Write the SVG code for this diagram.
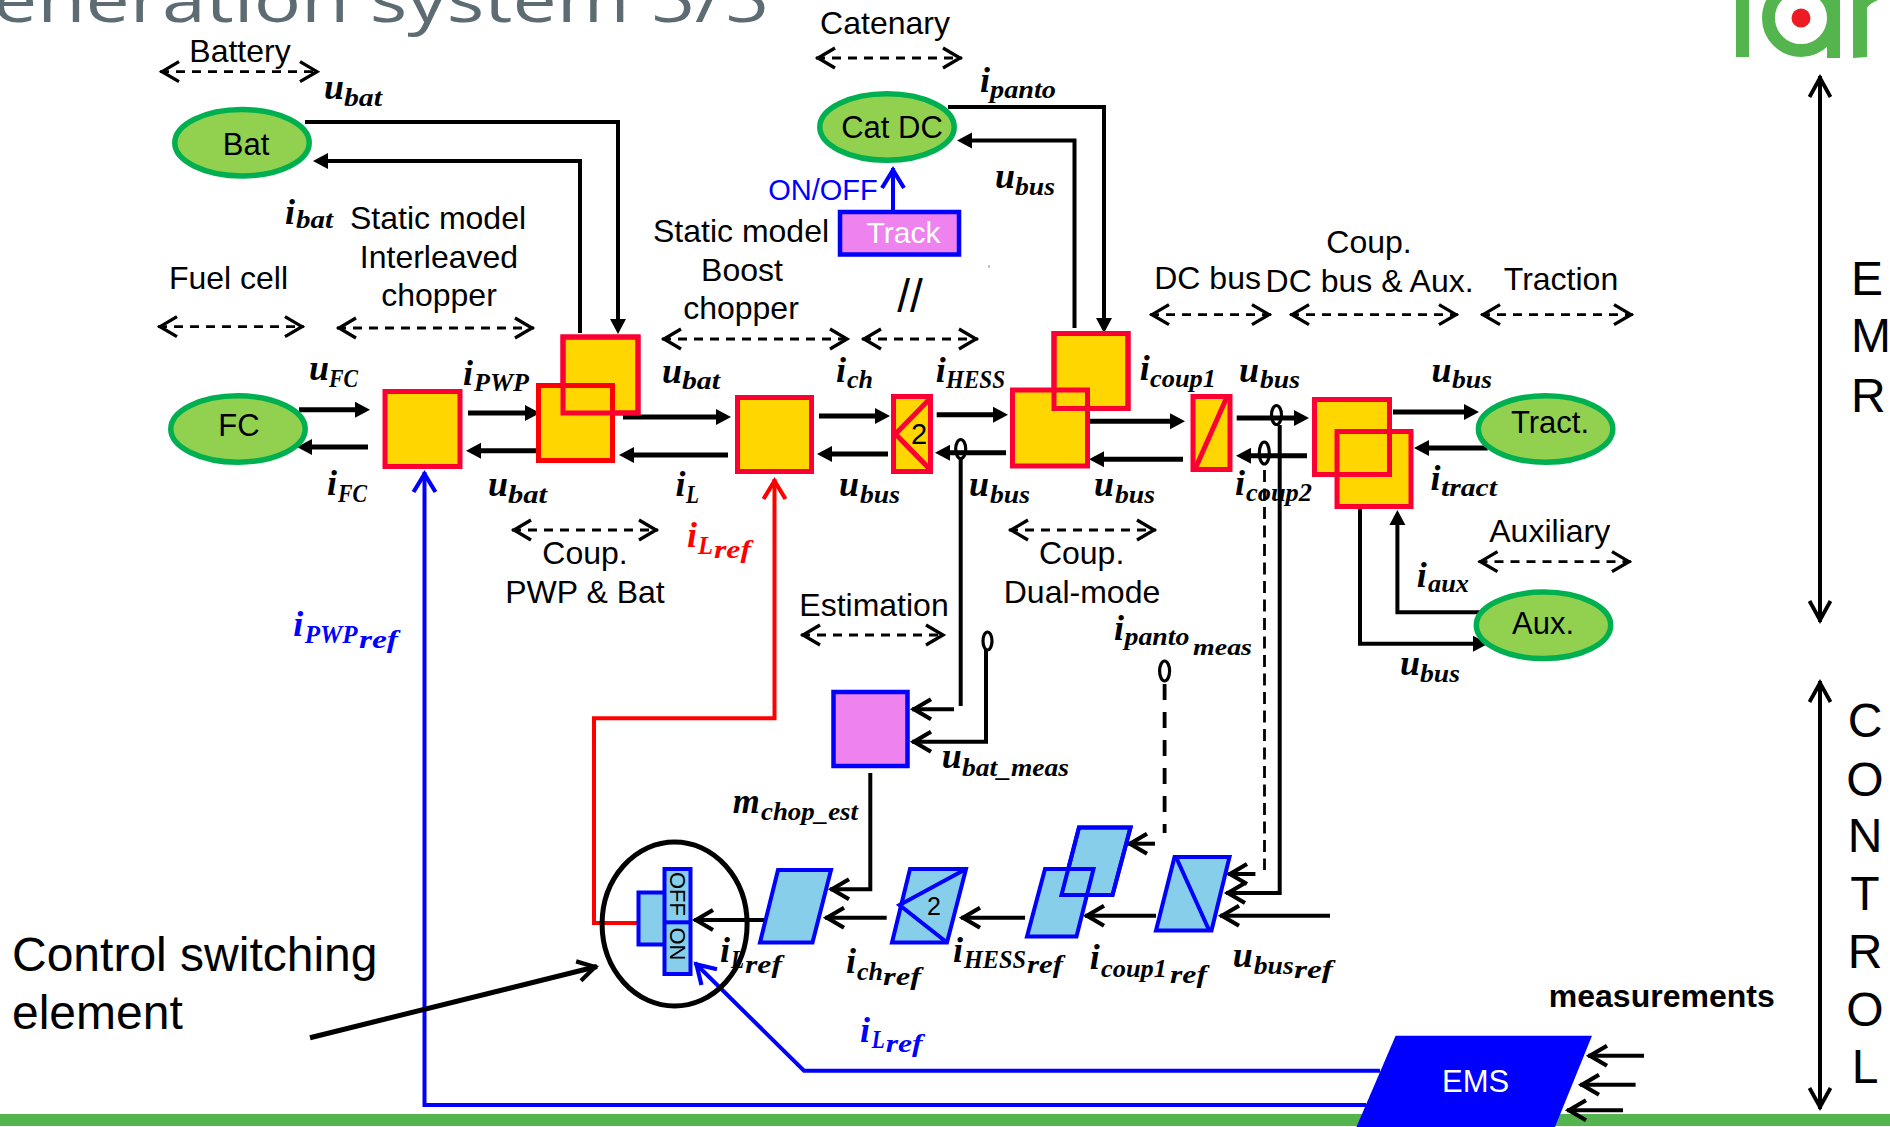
<svg xmlns="http://www.w3.org/2000/svg" width="1890" height="1127" viewBox="0 0 1890 1127">
<style>
text{font-family:"Liberation Sans",Arial,sans-serif;font-size:32px;fill:#000}
.c{text-anchor:middle}
.n{font-size:31px}
.b{font-size:48px}
.title{font-family:"Open Sans","Liberation Sans",sans-serif;font-size:62px;font-weight:400;fill:#5d6b73}
.m{font-family:"Liberation Serif","Times New Roman",serif;font-weight:bold;font-style:italic;font-size:36px}
.s{font-size:25px}
.ss{font-size:24px}
.blue{fill:#00f}.red{fill:#f00}
.el{fill:#92d050;stroke:#00b050;stroke-width:5.5}
.y{fill:#ffd600;stroke:#fb0032;stroke-width:5}
.yr{fill:#ffd600;stroke:#f00;stroke-width:5}
.no{fill:none}
.sky{fill:#87ceeb;stroke:#00f;stroke-width:4}
.vi{fill:#ee82ee;stroke:#00f;stroke-width:4.5}
.lk{fill:none;stroke:#000;stroke-width:4}
.sh{fill:none;stroke:#000;stroke-width:5}
.da{fill:none;stroke:#000;stroke-width:2.8;stroke-dasharray:9 7;marker-start:url(#dh);marker-end:url(#dh)}
.bl{fill:none;stroke:#00f;stroke-width:4}
.rd{fill:none;stroke:#f00;stroke-width:4}
.pr{fill:none;stroke:#000;stroke-width:3.2}
</style>
<defs>
<marker id="fa" markerUnits="userSpaceOnUse" markerWidth="24" markerHeight="24" refX="11" refY="12" orient="auto"><path d="M1,4 L16,12 L1,20Z" fill="#000"/></marker>
<marker id="oa" markerUnits="userSpaceOnUse" markerWidth="34" markerHeight="34" refX="26" refY="17" orient="auto"><path d="M7,7 L24,17 L7,27" fill="none" stroke="#000" stroke-width="4.2"/></marker>
<marker id="dh" markerUnits="userSpaceOnUse" markerWidth="34" markerHeight="34" refX="26" refY="17" orient="auto-start-reverse"><path d="M7,7 L24,17 L7,27" fill="none" stroke="#000" stroke-width="3.3"/></marker>
<marker id="lh" markerUnits="userSpaceOnUse" markerWidth="34" markerHeight="34" refX="26" refY="17" orient="auto-start-reverse"><path d="M5,6.5 L24,17 L5,27.5" fill="none" stroke="#000" stroke-width="3.8"/></marker>
<marker id="ob" markerUnits="userSpaceOnUse" markerWidth="34" markerHeight="34" refX="26" refY="17" orient="auto"><path d="M6,6 L24,17 L6,28" fill="none" stroke="#00f" stroke-width="4.2"/></marker>
<marker id="or" markerUnits="userSpaceOnUse" markerWidth="34" markerHeight="34" refX="26" refY="17" orient="auto"><path d="M6,6 L24,17 L6,28" fill="none" stroke="#f00" stroke-width="4.2"/></marker>
</defs>

<rect id="bottom-bar" x="0" y="1114" width="1890" height="12" fill="#54b54f"/>
<text class="title" x="-7" y="22" textLength="776" lengthAdjust="spacingAndGlyphs">eneration system 5/5</text>

<g id="logo">
<rect x="1736" y="0" width="13" height="57" fill="#54b54f"/>
<circle cx="1801" cy="18" r="32.5" fill="none" stroke="#54b54f" stroke-width="13"/>
<rect x="1827" y="0" width="13" height="58" fill="#54b54f"/>
<path d="M1853,0 L1878,0 Q1870,3 1867,8 L1867,57 L1853,58Z" fill="#54b54f"/>
<circle cx="1801" cy="18" r="9.5" fill="#ed1c24"/>
</g>

<g id="connectors">
<path class="lk" marker-end="url(#fa)" d="M305,122 H618 V329"/>
<path class="lk" marker-end="url(#fa)" d="M580,333 V161 H318"/>
<path class="lk" marker-end="url(#fa)" d="M948,107 H1104 V328"/>
<path class="lk" marker-end="url(#fa)" d="M1074.5,328 V140.5 H962"/>
<path class="bl" marker-end="url(#ob)" d="M893,210 V168"/>
<path class="sh" marker-end="url(#fa)" d="M299,409.7 H365"/>
<path class="sh" marker-end="url(#fa)" d="M368,447 H302"/>
<path class="sh" marker-end="url(#fa)" d="M468,413 H535"/>
<path class="sh" marker-end="url(#fa)" d="M538,450.7 H471"/>
<path class="sh" marker-end="url(#fa)" d="M623,417 H726"/>
<path class="sh" marker-end="url(#fa)" d="M728,455 H624"/>
<path class="sh" marker-end="url(#fa)" d="M819,416 H885"/>
<path class="sh" marker-end="url(#fa)" d="M888,454 H822"/>
<path class="sh" marker-end="url(#fa)" d="M936.7,414.7 H1003"/>
<path class="sh" marker-end="url(#fa)" d="M1006,452.7 H940"/>
<path class="sh" marker-end="url(#fa)" d="M1090,421.3 H1180"/>
<path class="sh" marker-end="url(#fa)" d="M1183,459.3 H1094"/>
<path class="sh" marker-end="url(#fa)" d="M1236.7,418 H1304"/>
<path class="sh" marker-end="url(#fa)" d="M1307,455.7 H1241"/>
<path class="sh" marker-end="url(#fa)" d="M1393,412 H1474"/>
<path class="sh" marker-end="url(#fa)" d="M1487.7,448 H1419"/>
<path class="lk" marker-end="url(#fa)" d="M1360,509 V643.7 H1483"/>
<path class="lk" marker-end="url(#fa)" d="M1480.6,612.3 H1397.4 V515"/>
<ellipse class="pr" cx="960.7" cy="449" rx="5" ry="9.5"/>
<path class="lk" d="M960.7,458 V706"/>
<path class="lk" marker-end="url(#oa)" d="M954,709.3 H912"/>
<ellipse class="pr" cx="987.5" cy="641" rx="4.5" ry="9"/>
<path class="lk" marker-end="url(#oa)" d="M986,650 V741.7 H912"/>
<ellipse class="pr" cx="1276.5" cy="415" rx="5" ry="9.5"/>
<path class="lk" marker-end="url(#oa)" d="M1279.7,425 V893 H1226"/>
<ellipse class="pr" cx="1264.3" cy="453" rx="5" ry="11"/>
<path d="M1264.5,470 V870" fill="none" stroke="#000" stroke-width="2.8" stroke-dasharray="12 6.5"/>
<path class="lk" marker-end="url(#oa)" d="M1255.4,874 H1228"/>
<ellipse class="pr" cx="1164.6" cy="671" rx="5" ry="10"/>
<path d="M1164.6,681 V833" fill="none" stroke="#000" stroke-width="3.8" stroke-dasharray="16 12" stroke-dashoffset="-3"/>
<path class="lk" marker-end="url(#oa)" d="M1155,843.7 H1128"/>
<path class="lk" marker-end="url(#oa)" d="M1330,915.7 H1220"/>
<path class="lk" marker-end="url(#oa)" d="M1156,915.7 H1085"/>
<path class="lk" marker-end="url(#oa)" d="M1025,917.7 H961"/>
<path class="lk" marker-end="url(#oa)" d="M886.7,917.7 H825"/>
<path class="lk" marker-end="url(#oa)" d="M870.3,773 V889.3 H830"/>
<path class="lk" marker-end="url(#oa)" d="M765.7,920 H694"/>
<path class="rd" marker-end="url(#or)" d="M637,923 H594 V718.3 H774.5 V479"/>
<path class="bl" marker-end="url(#ob)" d="M1366,1105 H424.5 V472"/>
<path class="bl" marker-end="url(#ob)" d="M1380,1070.7 H804 L695,963"/>
<path class="sh" marker-end="url(#oa)" d="M310,1037.7 L597,966.5"/>
<path class="lk" marker-end="url(#oa)" d="M1644,1055.7 H1588"/>
<path class="lk" marker-end="url(#oa)" d="M1635.6,1084.7 H1580"/>
<path class="lk" marker-end="url(#oa)" d="M1623,1110.3 H1567"/>
<path class="da" d="M160,71.7 H319"/>
<path class="da" d="M816,58 H962"/>
<path class="da" d="M158,326.7 H304"/>
<path class="da" d="M337,328 H534"/>
<path class="da" d="M662,339 H849"/>
<path class="da" d="M862,339 H978"/>
<path class="da" d="M1150,314.7 H1271"/>
<path class="da" d="M1290,314.7 H1458"/>
<path class="da" d="M1481,314.7 H1633"/>
<path class="da" d="M512,530 H658"/>
<path class="da" d="M1009,530 H1156"/>
<path class="da" d="M801,635 H945"/>
<path class="da" d="M1478.5,561.7 H1631"/>
<path class="lk" marker-start="url(#lh)" marker-end="url(#lh)" d="M1820,76 V622"/>
<path class="lk" marker-start="url(#lh)" marker-end="url(#lh)" d="M1820,681 V1109"/>
</g>

<g id="node-bat"><ellipse class="el" cx="242" cy="142.7" rx="67.2" ry="33.2"/><text class="c n" x="246" y="155">Bat</text></g>
<g id="node-catdc"><ellipse class="el" cx="887" cy="127" rx="67.2" ry="33.2"/><text class="c n" x="892" y="138">Cat DC</text></g>
<g id="node-track"><rect class="vi" x="840" y="212" width="119" height="42.5"/><text class="c" x="903.5" y="243" style="fill:#fff;font-size:30px">Track</text></g>
<g id="node-fc"><ellipse class="el" cx="238" cy="429" rx="67.2" ry="33.2"/><text class="c n" x="239" y="436">FC</text></g>
<g id="node-tract"><ellipse class="el" cx="1545.6" cy="429" rx="67.2" ry="33.2"/><text class="c n" x="1550" y="433">Tract.</text></g>
<g id="node-aux"><ellipse class="el" cx="1543.5" cy="625.3" rx="67.2" ry="33.2"/><text class="c n" x="1543" y="634">Aux.</text></g>
<g id="node-y1"><rect class="y" x="385" y="391.5" width="75" height="75"/></g>
<g id="node-y2"><rect class="y" x="563" y="337" width="75" height="76"/><rect class="yr" x="538.5" y="385.5" width="74" height="75"/><rect class="y no" x="563" y="337" width="75" height="76"/></g>
<g id="node-y3"><rect class="y" x="737.5" y="397.5" width="74" height="74"/></g>
<g id="node-chopper2"><rect class="y" x="893.5" y="396.5" width="37" height="75"/><path class="y no" d="M930.6,398 L895.5,434 L930.6,470"/><text class="c" x="919" y="444" style="font-size:29px">2</text></g>
<g id="node-y4"><rect class="y" x="1054" y="333.5" width="74" height="75"/><rect class="y" x="1012.5" y="390" width="75" height="76"/><rect class="y no" x="1054" y="333.5" width="74" height="75"/></g>
<g id="node-coupling"><rect class="y" x="1193" y="396.5" width="37" height="73"/><path class="y no" d="M1226.5,398 L1196,467"/></g>
<g id="node-y5"><rect class="y" x="1314.5" y="399.5" width="75" height="75"/><rect class="y" x="1337" y="431.5" width="74" height="75"/><rect class="y no" x="1314.5" y="399.5" width="75" height="75"/></g>
<g id="node-est"><rect class="vi" x="833.5" y="692" width="74" height="74"/></g>
<g id="node-il"><path class="sky" d="M778,870 H831 L812.5,942.5 H760Z"/></g>
<g id="node-ich"><path class="sky" d="M910,869 H966 L947,942.5 H892Z"/><path class="bl" d="M966,869 L899.5,905 L947,942.5"/><text class="c" x="934" y="915" style="font-size:25px">2</text></g>
<g id="node-hess"><path class="sky" d="M1079,827.5 H1130.5 L1112.5,895 H1061.5Z"/><path class="sky" d="M1045,869 H1093.5 L1076.5,936.5 H1027Z"/><path class="bl" d="M1079,827.5 H1130.5 L1112.5,895 H1061.5Z"/></g>
<g id="node-coup1"><path class="sky" d="M1174.5,857 H1229.5 L1211.5,930.5 H1156Z"/><path class="bl" d="M1176,857 L1209,930"/></g>
<g id="node-switch"><rect class="sky" x="638.5" y="892.5" width="30" height="52"/><rect class="sky" x="664.5" y="869" width="26" height="105"/><path class="bl" d="M664.5,922.3 H690.5"/>
<text class="c" transform="translate(670,894) rotate(90)" style="font-size:22px">OFF</text><text class="c" transform="translate(670,944) rotate(90)" style="font-size:22px">ON</text></g>
<ellipse id="switch-ring" cx="674.6" cy="924" rx="72.5" ry="82" fill="none" stroke="#000" stroke-width="5"/>
<g id="node-ems"><path d="M1395.6,1035.7 H1592 L1555,1127 H1356.4Z" fill="#00f"/><text class="c n" x="1475.6" y="1091.7" style="fill:#fff">EMS</text></g>

<g id="labels">
<text class="c" x="240" y="62">Battery</text>
<text class="c" x="885" y="34">Catenary</text>
<text class="c" x="438" y="229">Static model</text>
<text class="c" x="439" y="268">Interleaved</text>
<text class="c" x="439" y="306">chopper</text>
<text class="c" x="228.5" y="289">Fuel cell</text>
<text class="c" x="741" y="242">Static model</text>
<text class="c" x="742" y="281">Boost</text>
<text class="c" x="741" y="319">chopper</text>
<text class="c blue" x="823" y="200" style="font-size:29px">ON/OFF</text>
<text class="c" x="910" y="312" style="font-size:46px">//</text>
<rect x="988.5" y="265" width="1" height="3" fill="#888"/>
<text class="c" x="1369" y="253">Coup.</text>
<text class="c" x="1207.6" y="289">DC bus</text>
<text class="c" x="1369.6" y="291.7">DC bus &amp; Aux.</text>
<text class="c" x="1561" y="290">Traction</text>
<text class="c" x="585" y="564">Coup.</text>
<text class="c" x="585" y="603">PWP &amp; Bat</text>
<text class="c" x="1081.6" y="564">Coup.</text>
<text class="c" x="1082" y="603">Dual-mode</text>
<text class="c" x="874" y="616">Estimation</text>
<text class="c" x="1549.7" y="542">Auxiliary</text>
<text x="1548.8" y="1007" style="font-weight:bold">measurements</text>
<text x="12" y="970.7" class="b">Control switching</text>
<text x="12" y="1028.5" class="b">element</text>
<text x="1851" y="295" class="b">E</text><text x="1851" y="351.7" class="b">M</text><text x="1851" y="412" class="b">R</text>
<text class="c b" x="1865" y="737">C</text><text class="c b" x="1865" y="795.7">O</text><text class="c b" x="1865" y="852">N</text><text class="c b" x="1865" y="910">T</text><text class="c b" x="1865" y="968">R</text><text class="c b" x="1865" y="1025.7">O</text><text class="c b" x="1865" y="1082.7">L</text>

<text class="m"><tspan x="324" y="99">u</tspan><tspan class="s" x="344" y="106" textLength="38" lengthAdjust="spacingAndGlyphs">bat</tspan></text>
<text class="m"><tspan x="285" y="224">i</tspan><tspan class="s" x="296" y="228" textLength="37" lengthAdjust="spacingAndGlyphs">bat</tspan></text>
<text class="m"><tspan x="980" y="92">i</tspan><tspan class="s" x="990" y="98" textLength="66" lengthAdjust="spacingAndGlyphs">panto</tspan></text>
<text class="m"><tspan x="995" y="188">u</tspan><tspan class="s" x="1015" y="195" textLength="40" lengthAdjust="spacingAndGlyphs">bus</tspan></text>
<text class="m"><tspan x="309" y="380">u</tspan><tspan class="s" x="329" y="387" textLength="29" lengthAdjust="spacingAndGlyphs">FC</tspan></text>
<text class="m"><tspan x="463" y="385">i</tspan><tspan class="s" x="474" y="391" textLength="55" lengthAdjust="spacingAndGlyphs">PWP</tspan></text>
<text class="m"><tspan x="662" y="382.7">u</tspan><tspan class="s" x="682" y="388.7" textLength="38" lengthAdjust="spacingAndGlyphs">bat</tspan></text>
<text class="m"><tspan x="836" y="381.7">i</tspan><tspan class="s" x="847" y="388" textLength="26" lengthAdjust="spacingAndGlyphs">ch</tspan></text>
<text class="m"><tspan x="327" y="495">i</tspan><tspan class="s" x="338" y="501.7" textLength="29" lengthAdjust="spacingAndGlyphs">FC</tspan></text>
<text class="m"><tspan x="488" y="495.7">u</tspan><tspan class="s" x="508" y="503" textLength="39" lengthAdjust="spacingAndGlyphs">bat</tspan></text>
<text class="m"><tspan x="675.5" y="495.7">i</tspan><tspan class="s" x="686" y="502.7" textLength="13" lengthAdjust="spacingAndGlyphs">L</tspan></text>
<text class="m"><tspan x="839" y="495.7">u</tspan><tspan class="s" x="860" y="503" textLength="40" lengthAdjust="spacingAndGlyphs">bus</tspan></text>
<text class="m"><tspan x="935.7" y="381.7">i</tspan><tspan class="s" x="946" y="388" textLength="59" lengthAdjust="spacingAndGlyphs">HESS</tspan></text>
<text class="m"><tspan x="969" y="495.7">u</tspan><tspan class="s" x="990" y="503" textLength="40" lengthAdjust="spacingAndGlyphs">bus</tspan></text>
<text class="m"><tspan x="1094" y="495.7">u</tspan><tspan class="s" x="1115" y="503" textLength="40" lengthAdjust="spacingAndGlyphs">bus</tspan></text>
<text class="m"><tspan x="1139.8" y="380">i</tspan><tspan class="s" x="1150" y="386.7" textLength="66" lengthAdjust="spacingAndGlyphs">coup1</tspan></text>
<text class="m"><tspan x="1239" y="381.7">u</tspan><tspan class="s" x="1260" y="388" textLength="40" lengthAdjust="spacingAndGlyphs">bus</tspan></text>
<text class="m"><tspan x="1431.6" y="381.7">u</tspan><tspan class="s" x="1452" y="388" textLength="40" lengthAdjust="spacingAndGlyphs">bus</tspan></text>
<text class="m"><tspan x="1235" y="495">i</tspan><tspan class="s" x="1246" y="501" textLength="66" lengthAdjust="spacingAndGlyphs">coup2</tspan></text>
<text class="m"><tspan x="1430.6" y="490">i</tspan><tspan class="s" x="1441" y="496" textLength="56" lengthAdjust="spacingAndGlyphs">tract</tspan></text>
<text class="m"><tspan x="1416.8" y="586.7">i</tspan><tspan class="s" x="1428" y="592" textLength="41" lengthAdjust="spacingAndGlyphs">aux</tspan></text>
<text class="m"><tspan x="1400" y="675">u</tspan><tspan class="s" x="1420" y="681.7" textLength="40" lengthAdjust="spacingAndGlyphs">bus</tspan></text>
<text class="m"><tspan x="1114" y="640">i</tspan><tspan class="s" x="1124.5" y="645" textLength="65" lengthAdjust="spacingAndGlyphs">panto</tspan><tspan class="ss" x="1193" y="655" textLength="59" lengthAdjust="spacingAndGlyphs">meas</tspan></text>
<text class="m"><tspan x="941.7" y="768">u</tspan><tspan class="s" x="962" y="775.7" textLength="107" lengthAdjust="spacingAndGlyphs">bat_meas</tspan></text>
<text class="m"><tspan x="732.7" y="813" textLength="27" lengthAdjust="spacingAndGlyphs">m</tspan><tspan class="s" x="761" y="820" textLength="97" lengthAdjust="spacingAndGlyphs">chop_est</tspan></text>
<text class="m"><tspan x="720" y="961.7">i</tspan><tspan class="s" x="731" y="968" textLength="13" lengthAdjust="spacingAndGlyphs">L</tspan><tspan class="s" x="745" y="972.7" textLength="37" lengthAdjust="spacingAndGlyphs">ref</tspan></text>
<text class="m"><tspan x="846" y="973">i</tspan><tspan class="s" x="857" y="980" textLength="26" lengthAdjust="spacingAndGlyphs">ch</tspan><tspan class="s" x="883" y="985" textLength="38" lengthAdjust="spacingAndGlyphs">ref</tspan></text>
<text class="m"><tspan x="953" y="961.7">i</tspan><tspan class="s" x="964" y="968" textLength="62" lengthAdjust="spacingAndGlyphs">HESS</tspan><tspan class="s" x="1027" y="973" textLength="36" lengthAdjust="spacingAndGlyphs">ref</tspan></text>
<text class="m"><tspan x="1089.7" y="969">i</tspan><tspan class="s" x="1101" y="976.7" textLength="66" lengthAdjust="spacingAndGlyphs">coup1</tspan><tspan class="s" x="1170" y="983" textLength="37" lengthAdjust="spacingAndGlyphs">ref</tspan></text>
<text class="m"><tspan x="1232.7" y="966.7">u</tspan><tspan class="s" x="1253.7" y="974" textLength="40" lengthAdjust="spacingAndGlyphs">bus</tspan><tspan class="s" x="1294" y="978" textLength="39" lengthAdjust="spacingAndGlyphs">ref</tspan></text>
<text class="m red"><tspan class="red" x="687" y="546.7">i</tspan><tspan class="s red" x="698" y="554" textLength="15" lengthAdjust="spacingAndGlyphs">L</tspan><tspan class="s red" x="714" y="558" textLength="37" lengthAdjust="spacingAndGlyphs">ref</tspan></text>
<text class="m blue"><tspan class="blue" x="293.3" y="636">i</tspan><tspan class="s blue" x="304.7" y="642.7" textLength="53" lengthAdjust="spacingAndGlyphs">PWP</tspan><tspan class="s blue" x="359" y="648" textLength="39" lengthAdjust="spacingAndGlyphs">ref</tspan></text>
<text class="m blue"><tspan class="blue" x="860" y="1041.7">i</tspan><tspan class="s blue" x="871.7" y="1048" textLength="13" lengthAdjust="spacingAndGlyphs">L</tspan><tspan class="s blue" x="885.7" y="1051.7" textLength="37" lengthAdjust="spacingAndGlyphs">ref</tspan></text>
</g>
</svg>
